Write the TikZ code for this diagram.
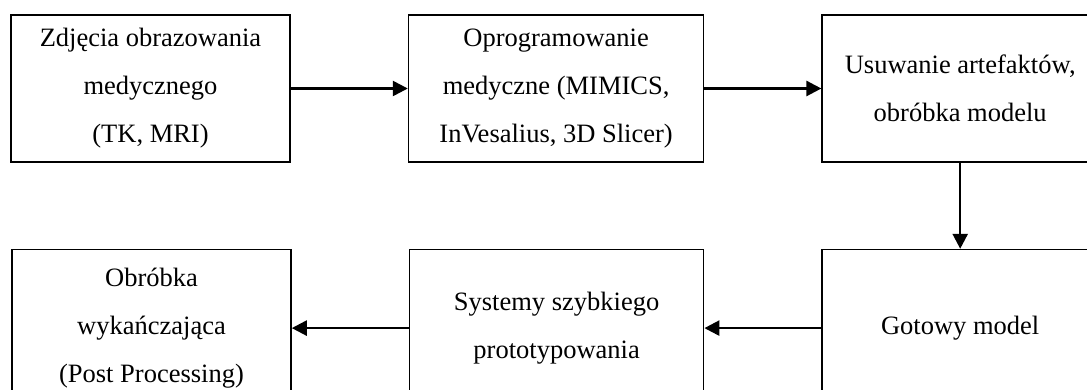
\documentclass[tikz,border=0pt]{standalone}
\usepackage{fontspec}
\setmainfont{Liberation Serif}
\usetikzlibrary{arrows.meta, positioning}

\begin{document}
\begin{tikzpicture}[x=1pt, y=-1pt,
    node distance=117pt,
    stage/.style={rectangle, draw, line width=1.6pt, inner sep=0pt, align=center, font=\fontsize{26.5}{48}\selectfont},
    flow/.style={-{Triangle[length=15pt, width=15pt]}, line width=2.5pt}
]
\useasboundingbox (0,0) rectangle (1087,390);
\clip (0,0) rectangle (1087,390);

% Upper row
\node[stage, minimum width=279pt, minimum height=147pt] (Imaging) at (150.5,88.5) {Zdjęcia obrazowania\\medycznego\\(TK, MRI)};
\node[stage, minimum width=295pt, minimum height=147pt, right=of Imaging] (Software) {Oprogramowanie\\medyczne (MIMICS,\\InVesalius, 3D Slicer)};
\node[stage, minimum width=276pt, minimum height=147pt, right=of Software] (Cleanup) {Usuwanie artefaktów,\\obróbka modelu};

% Lower row
\node[stage, minimum width=276pt, minimum height=157pt, below=86pt of Cleanup] (Model) {Gotowy model};
\node[stage, minimum width=294pt, minimum height=157pt, left=of Model] (RapidProto) {Systemy szybkiego\\prototypowania};
\node[stage, minimum width=279pt, minimum height=157pt, left=of RapidProto] (PostProc) {Obróbka\\wykańczająca\\(Post Processing)};

% Connections
\draw[flow] (Imaging) -- (Software);
\draw[flow] (Software) -- (Cleanup);
\draw[flow] (Cleanup) -- (Model);
\draw[flow] (Model) -- (RapidProto);
\draw[flow] (RapidProto) -- (PostProc);

\end{tikzpicture}
\end{document}
